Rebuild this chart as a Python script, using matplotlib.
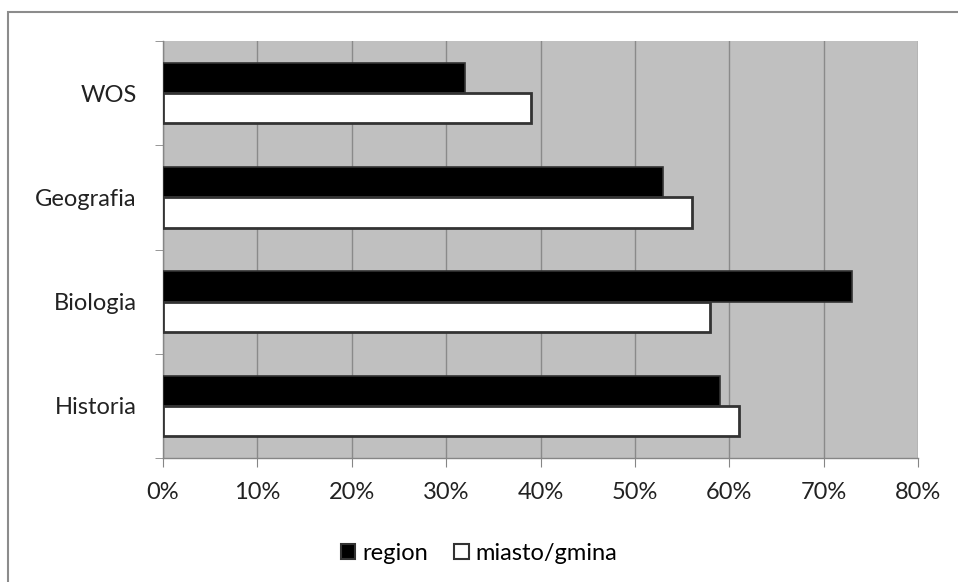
import matplotlib
matplotlib.use("Agg")
import matplotlib.pyplot as plt
from matplotlib.patches import Rectangle
import numpy as np

categories = ["Historia", "Biologia", "Geografia", "WOS"]
region = [59, 73, 53, 32]
miasto = [61, 58, 56, 39]
series_names = ["region", "miasto/gmina"]
xticks = [0, 10, 20, 30, 40, 50, 60, 70, 80]

plt.rcParams['font.family'] = ['Lato', 'DejaVu Sans']
FS = 17

fig = plt.figure(figsize=(9.58, 5.82), dpi=100)
# outer frame (left and top visible)
fig.patches.append(Rectangle((8/958, -0.1), 1.2, (582-12)/582 + 0.1,
                             transform=fig.transFigure, fill=False,
                             edgecolor='#8c8c8c', linewidth=1.5))

ax = fig.add_axes([163/958, (582-458)/582, (918-163)/958, (458-41)/582])
ax.set_facecolor('#c0c0c0')

y = np.arange(len(categories))
h = 0.29
ax.barh(y + h/2, region, height=h, color='black', edgecolor='#333333',
        linewidth=1.2, label=series_names[0], zorder=3)
ax.barh(y - h/2, miasto, height=h, color='white', edgecolor='#333333',
        linewidth=2.0, label=series_names[1], zorder=3)

ax.set_xlim(0, 80)
ax.set_ylim(-0.5, len(categories) - 0.5)
ax.set_xticks(xticks)
ax.set_xticklabels([f"{v}%" for v in xticks], fontsize=FS, color='#222222')
ax.set_yticks(y)
ax.set_yticklabels(categories, fontsize=FS, color='#222222')
ax.set_yticks(np.arange(-0.5, len(categories), 1), minor=True)
ax.tick_params(axis='y', which='major', length=0, pad=19)
ax.tick_params(axis='y', which='minor', length=6, color='#868686', direction='out')
ax.tick_params(axis='x', which='major', length=6.5, color='#868686', direction='out', pad=11)

ax.grid(axis='x', color='#8a8a8a', linewidth=1.0, zorder=0)
ax.set_axisbelow(True)
for s in ['top', 'right']:
    ax.spines[s].set_visible(False)
for s in ['left', 'bottom']:
    ax.spines[s].set_color('#868686')
    ax.spines[s].set_linewidth(1.0)

handles, labels = ax.get_legend_handles_labels()
leg = fig.legend(handles, labels, loc='center', bbox_to_anchor=(0.5, (582-553)/582),
                 ncol=2, frameon=False, fontsize=FS, handlelength=0.62,
                 handleheight=0.62, handletextpad=0.3, columnspacing=1.1)
for hnd in leg.legend_handles:
    hnd.set_linewidth(1.5)

fig.savefig("out.png", dpi=100)
